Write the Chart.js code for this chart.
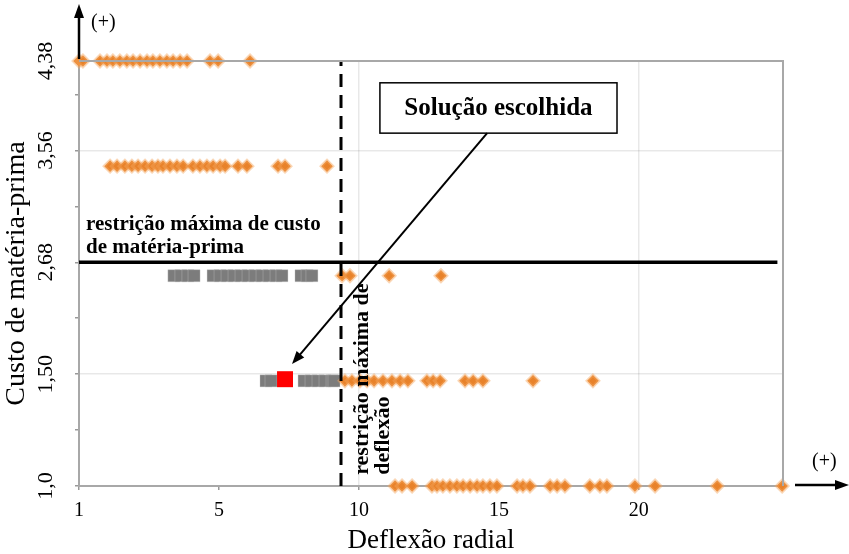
<!DOCTYPE html>
<html><head><meta charset="utf-8">
<script src="https://cdn.jsdelivr.net/npm/chart.js@4/dist/chart.umd.min.js"></script>
<style>html,body{margin:0;padding:0;background:#fff}</style>
</head><body>
<canvas id="c" width="849" height="554"></canvas>
<script>
// ---- axes ----
const xTickValues = [0, 5, 10, 15, 20];
const xTickLabels = ['1', '5', '10', '15', '20'];
const yTickValues = [0, 2, 4, 6, 7.6];
const yTickLabels = ['1,0', '1,50', '2,68', '3,56', '4,38'];
const yMinorTicks = [1, 3, 5, 7];
const xMax = 25.15;
const yMax = 7.6;

// ---- rows (y position on axis) ----
const row1Y = 7.6, row2Y = 5.72, row3Y = 3.76, row4Y = 1.88, row5Y = 0;

// ---- solutions (deflexão radial positions) ----
const row1X = [0, 0.14, 0.75, 1.0, 1.21, 1.46, 1.71, 1.93, 2.18, 2.43, 2.64, 2.89, 3.14, 3.36, 3.61, 3.86, 4.68, 4.97, 6.11];
const row2X = [1.11, 1.36, 1.64, 1.89, 2.11, 2.36, 2.61, 2.82, 3.0, 3.25, 3.5, 3.72, 4.07, 4.32, 4.57, 4.79, 5.04, 5.22, 5.68, 6.0, 7.11, 7.36, 8.86];
const row3GreyX = [3.39, 3.64, 3.89, 4.11, 4.79, 5.04, 5.29, 5.54, 5.79, 6.04, 6.29, 6.54, 6.79, 7.04, 7.25, 7.93, 8.15, 8.32];
const row3OrangeX = [9.4, 9.68, 11.08, 12.93];
const row4GreyX = [6.68, 6.86, 8.04, 8.29, 8.54, 8.79, 9.04, 9.11];
const row4OrangeX = [9.5, 9.75, 10.04, 10.29, 10.54, 10.86, 11.18, 11.47, 11.75, 12.43, 12.65, 12.9, 13.79, 14.08, 14.43, 16.22, 18.36];
const row5X = [11.29, 11.54, 11.9, 12.61, 12.79, 13.0, 13.25, 13.5, 13.72, 13.97, 14.22, 14.43, 14.68, 14.93, 15.65, 15.86, 16.11, 16.83, 17.08, 17.36, 18.25, 18.61, 18.86, 19.86, 20.58, 22.8, 25.12];
const chosenX = 7.36, chosenY = 1.91;

// ---- constraints ----
const costLimitY = 4;        // 2,68
const costLineEndX = 24.95;
const deflectionLimitX = 9.36;

const pts = (xs, y) => xs.map(x => ({x, y}));
const orange = {pointStyle: 'rectRot', pointRadius: 5.8, pointHoverRadius: 5.8,
  backgroundColor: '#E8822A', borderColor: 'rgba(243,165,90,0.45)', borderWidth: 3, clip: false, order: 2};
const grey = {pointStyle: 'rect', pointRadius: 8.5, pointHoverRadius: 8.5,
  backgroundColor: '#7c7c7c', borderColor: 'rgba(200,200,200,0.35)', borderWidth: 1, clip: false, order: 4};

const serif = '"Liberation Serif", "Times New Roman", serif';

const annot = {
  id: 'annot',
  afterDatasetsDraw(chart) {
    const ctx = chart.ctx, xs = chart.scales.x, ys = chart.scales.y, a = chart.chartArea;
    const X = v => xs.getPixelForValue(v), Y = v => ys.getPixelForValue(v);
    ctx.save();
    // frame top/right
    ctx.strokeStyle = '#a8a8a8'; ctx.lineWidth = 2;
    ctx.beginPath(); ctx.moveTo(a.left, a.top); ctx.lineTo(a.right, a.top); ctx.lineTo(a.right, a.bottom); ctx.stroke();
    // axis arrows
    ctx.strokeStyle = '#000'; ctx.fillStyle = '#000'; ctx.lineWidth = 2.5;
    ctx.beginPath(); ctx.moveTo(a.left, a.top - 2); ctx.lineTo(a.left, 16); ctx.stroke();
    ctx.beginPath(); ctx.moveTo(a.left, 4); ctx.lineTo(a.left - 5, 18); ctx.lineTo(a.left + 5, 18); ctx.closePath(); ctx.fill();
    ctx.beginPath(); ctx.moveTo(a.right + 12, a.bottom - 1); ctx.lineTo(838, a.bottom - 1); ctx.stroke();
    ctx.beginPath(); ctx.moveTo(849, a.bottom - 1); ctx.lineTo(835, a.bottom - 6); ctx.lineTo(835, a.bottom + 4); ctx.closePath(); ctx.fill();
    ctx.font = '20px ' + serif; ctx.textBaseline = 'middle'; ctx.textAlign = 'left';
    ctx.fillText('(+)', a.left + 12, 23);
    ctx.fillText('(+)', 812, a.bottom - 24);
    // cost constraint text
    ctx.font = 'bold 21px ' + serif; ctx.textAlign = 'left';
    ctx.fillText('restrição máxima de custo', X(0.25), Y(4.67));
    ctx.fillText('de matéria-prima', X(0.25), Y(4.26));
    // deflection constraint text (rotated)
    ctx.font = 'bold 22px ' + serif;
    ctx.save(); ctx.translate(X(10.11), Y(0.2)); ctx.rotate(-Math.PI / 2);
    ctx.fillText('restrição máxima de', 0, 0); ctx.restore();
    ctx.save(); ctx.translate(X(10.86), Y(0.2)); ctx.rotate(-Math.PI / 2);
    ctx.fillText('deflexão', 0, 0); ctx.restore();
    // solution box
    const bx0 = X(10.75), bx1 = X(19.22), by0 = Y(7.21), by1 = Y(6.31);
    ctx.fillStyle = '#fff'; ctx.fillRect(bx0, by0, bx1 - bx0, by1 - by0);
    ctx.strokeStyle = '#000'; ctx.lineWidth = 1.5; ctx.strokeRect(bx0, by0, bx1 - bx0, by1 - by0);
    ctx.fillStyle = '#000'; ctx.font = 'bold 25px ' + serif; ctx.textAlign = 'center';
    ctx.fillText('Solução escolhida', (bx0 + bx1) / 2, (by0 + by1) / 2 + 1);
    // pointer arrow
    const sx = X(14.58), sy = Y(6.31), ex = X(7.61), ey = Y(2.18);
    const ang = Math.atan2(ey - sy, ex - sx);
    ctx.lineWidth = 2;
    ctx.beginPath(); ctx.moveTo(sx, sy); ctx.lineTo(ex - 10 * Math.cos(ang), ey - 10 * Math.sin(ang)); ctx.stroke();
    ctx.beginPath(); ctx.moveTo(ex, ey);
    ctx.lineTo(ex - 13 * Math.cos(ang) + 5 * Math.sin(ang), ey - 13 * Math.sin(ang) - 5 * Math.cos(ang));
    ctx.lineTo(ex - 13 * Math.cos(ang) - 5 * Math.sin(ang), ey - 13 * Math.sin(ang) + 5 * Math.cos(ang));
    ctx.closePath(); ctx.fill();
    ctx.restore();
  }
};

new Chart(document.getElementById('c'), {
  type: 'scatter',
  data: {
    datasets: [
      {type: 'line', data: [{x: 0, y: costLimitY}, {x: costLineEndX, y: costLimitY}], borderColor: '#000', borderWidth: 3.5, pointRadius: 0, order: 0, clip: false},
      {type: 'line', data: [{x: deflectionLimitX, y: 0}, {x: deflectionLimitX, y: yMax}], borderColor: '#000', borderWidth: 3, borderDash: [13, 8], pointRadius: 0, order: 0, clip: false},
      Object.assign({data: pts(row3GreyX, row3Y)}, grey),
      Object.assign({data: pts(row4GreyX, row4Y)}, grey),
      {data: [{x: chosenX, y: chosenY}], pointStyle: 'rect', pointRadius: 11.3, pointHoverRadius: 11.3, backgroundColor: '#ff0000', borderColor: '#ff0000', borderWidth: 0, order: 1, clip: false},
      Object.assign({data: pts(row1X, row1Y)}, orange),
      Object.assign({data: pts(row2X, row2Y)}, orange),
      Object.assign({data: pts(row3OrangeX, row3Y)}, orange),
      Object.assign({data: pts(row4OrangeX, row4Y)}, orange),
      Object.assign({data: pts(row5X, row5Y)}, orange)
    ]
  },
  options: {
    responsive: false, animation: false,
    layout: {padding: {top: 61, right: 66, left: 0, bottom: 0}},
    plugins: {legend: {display: false}, tooltip: {enabled: false}},
    scales: {
      x: {
        type: 'linear', min: 0, max: xMax,
        afterBuildTicks: s => { s.ticks = xTickValues.map(v => ({value: v})); },
        afterFit: s => { s.height = 68; },
        ticks: {autoSkip: false, padding: 9, color: '#000', font: {family: serif, size: 20},
          callback: v => { const i = xTickValues.indexOf(v); return i >= 0 ? xTickLabels[i] : ''; }},
        grid: {color: c => (c.tick && (c.tick.value === 10 || c.tick.value === 20)) ? 'rgba(0,0,0,0.09)' : 'rgba(0,0,0,0)',
          tickColor: '#999', tickLength: 4, lineWidth: 1.5},
        border: {color: '#a8a8a8', width: 2},
        title: {display: true, text: 'Deflexão radial', color: '#000', font: {family: serif, size: 27}, padding: {top: 0, bottom: -3}}
      },
      y: {
        type: 'linear', min: 0, max: yMax,
        afterBuildTicks: s => { s.ticks = [...yTickValues, ...yMinorTicks].sort((a, b) => a - b).map(v => ({value: v})); },
        afterFit: s => { s.width = 79; },
        ticks: {autoSkip: false, minRotation: 90, maxRotation: 90, crossAlign: 'center', padding: 10, color: '#000',
          font: {family: serif, size: 22},
          callback: v => { const i = yTickValues.indexOf(v); return i >= 0 ? yTickLabels[i] : ''; }},
        grid: {color: c => (c.tick && (c.tick.value === 2 || c.tick.value === 6)) ? 'rgba(0,0,0,0.09)' : 'rgba(0,0,0,0)',
          tickColor: '#999', tickLength: 4, lineWidth: 1.5},
        border: {color: '#a8a8a8', width: 2},
        title: {display: true, text: 'Custo de matéria-prima', color: '#000', font: {family: serif, size: 28}, padding: {top: 0, bottom: 0}}
      }
    }
  },
  plugins: [annot]
});
</script>
</body></html>
